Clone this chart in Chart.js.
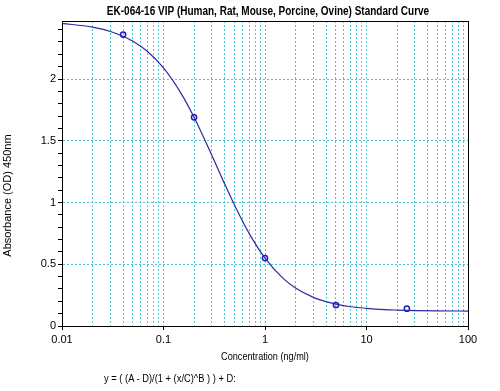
<!DOCTYPE html>
<html>
<head>
<meta charset="utf-8">
<script src="https://cdn.jsdelivr.net/npm/chart.js@4.4.1/dist/chart.umd.min.js"></script>
<style>
  html, body { margin: 0; padding: 0; background: #fff; }
  #wrap { position: relative; width: 500px; height: 391px; }
  #formula { position: absolute; left: 104px; top: 372px; font: 11px "Liberation Sans", Arial, sans-serif; color: #000; white-space: nowrap; transform: scaleX(0.85); transform-origin: 0 0; }
</style>
</head>
<body>
<div id="wrap">
  <canvas id="curve" width="500" height="391"></canvas>
  <div id="formula">y = ( (A - D)/(1 + (x/C)^B ) ) + D:</div>
</div>
<script>
// standards (ng/ml) and measured OD
var stdConc = [0.04, 0.2, 1, 5, 25];
var stdOD = [2.36, 1.69, 0.55, 0.17, 0.14];

// fitted curve
var fitConc = [0.01, 0.02, 0.03, 0.05, 0.07, 0.1, 0.15, 0.2, 0.3, 0.4, 0.5, 0.7, 1, 1.5, 2, 3, 4, 5, 7, 10, 15, 20, 30, 50, 100];
var fitOD = [2.45, 2.421, 2.385, 2.306, 2.221, 2.09, 1.88, 1.69, 1.381, 1.151, 0.98, 0.748, 0.55, 0.388, 0.308, 0.232, 0.197, 0.177, 0.156, 0.143, 0.133, 0.129, 0.125, 0.1225, 0.121];

var xLabels = [0.01, 0.1, 1, 10, 100];
var yLabels = [0, 0.5, 1, 1.5, 2];

var chartTitle = 'EK-064-16 VIP (Human, Rat, Mouse, Porcine, Ovine) Standard Curve';
var xTitle = 'Concentration (ng/ml)';
var yTitle = 'Absorbance (OD) 450nm';

var gridCol = '#4ec8d8';
var font = "'Liberation Sans', Arial, sans-serif";

function pts(xs, ys) {
	return xs.map(function (x, i) { return {x: x, y: ys[i]}; });
}
function isDecade(v) {
	return xLabels.some(function (d) { return Math.abs(d - v) < d * 1e-6; });
}
function isYLabel(v) {
	return yLabels.some(function (d) { return Math.abs(d - v) < 1e-6; });
}

// squeezed text, the original titles are narrower than Arial
function squeezed(c, text, x, y, sx) {
	c.save();
	c.translate(x, y);
	c.scale(sx, 1);
	c.fillText(text, 0, 0);
	c.restore();
}

// box round the plot, plus the three titles
var frame = {
	id: 'frame',
	afterDatasetsDraw: function (chart) {
		var a = chart.chartArea, c = chart.ctx;
		c.save();
		c.strokeStyle = '#000';
		c.lineWidth = 1;
		c.strokeRect(Math.round(a.left) + 0.5, Math.round(a.top) + 0.5, Math.round(a.right - a.left), Math.round(a.bottom - a.top));
		c.restore();
	},
	afterDraw: function (chart) {
		var a = chart.chartArea, c = chart.ctx;
		var mid = (a.left + a.right) / 2;
		c.save();
		c.fillStyle = '#000';
		c.textAlign = 'center';
		c.textBaseline = 'middle';
		c.font = 'bold 12.5px ' + font;
		squeezed(c, chartTitle, mid + 3, 12, 0.8);
		c.font = '11px ' + font;
		squeezed(c, xTitle, mid, 357, 0.83);
		c.translate(8, chart.height / 2);
		c.rotate(-Math.PI / 2);
		c.fillText(yTitle, 0, 0);
		c.restore();
	}
};

Chart.defaults.font.family = font;
Chart.defaults.color = '#000';

var ctx = document.getElementById('curve').getContext('2d');
var myChart = new Chart(ctx, {
	type: 'scatter',
	data: {
		datasets: [
			{
				label: 'Fit',
				data: pts(fitConc, fitOD),
				showLine: true,
				borderColor: '#2a2aa0',
				borderWidth: 1.2,
				pointRadius: 0,
				cubicInterpolationMode: 'monotone',
				fill: false
			},
			{
				label: 'Standards',
				data: pts(stdConc, stdOD),
				showLine: false,
				borderColor: '#1c1cc0',
				backgroundColor: 'rgba(0,0,0,0)',
				borderWidth: 1.5,
				pointRadius: 2.6
			}
		]
	},
	options: {
		responsive: false,
		animation: false,
		layout: { padding: { left: 0, right: 32, top: 21, bottom: 45 } },
		plugins: {
			legend: { display: false },
			tooltip: { enabled: false },
			title: { display: false }
		},
		scales: {
			x: {
				type: 'logarithmic',
				min: 0.01,
				max: 100,
				afterBuildTicks: function (scale) {
					var t = [];
					for (var e = -2; e < 2; e++) {
						for (var m = 1; m < 10; m++) {
							t.push({ value: +(m * Math.pow(10, e)).toPrecision(3) });
						}
					}
					t.push({ value: 100 });
					scale.ticks = t;
				},
				afterFit: function (scale) { scale.height = 20; },
				ticks: {
					autoSkip: false,
					maxRotation: 0,
					padding: 3,
					font: { size: 11 },
					callback: function (v) { return isDecade(v) ? String(v) : ''; }
				},
				grid: {
					color: gridCol,
					lineWidth: 1,
					tickLength: 4,
					tickColor: function (c) { return c.tick && isDecade(c.tick.value) ? '#000' : 'rgba(0,0,0,0)'; }
				},
				border: { display: true, color: '#000', width: 1, dash: [2, 2] }
			},
			y: {
				min: 0,
				max: 2.47,
				afterBuildTicks: function (scale) {
					var t = [];
					for (var i = 0; i <= 24; i++) t.push({ value: +(i / 10).toFixed(1) });
					scale.ticks = t;
				},
				afterFit: function (scale) { scale.width = 62; },
				ticks: {
					autoSkip: false,
					padding: 2,
					font: { size: 11 },
					callback: function (v) { return isYLabel(v) ? String(v) : ''; }
				},
				grid: {
					color: function (c) { return c.tick && isYLabel(c.tick.value) ? gridCol : 'rgba(0,0,0,0)'; },
					lineWidth: 1,
					tickLength: 4,
					tickColor: '#000'
				},
				border: { display: true, color: '#000', width: 1, dash: [2, 2] }
			}
		}
	},
	plugins: [frame]
});
</script>
</body>
</html>
